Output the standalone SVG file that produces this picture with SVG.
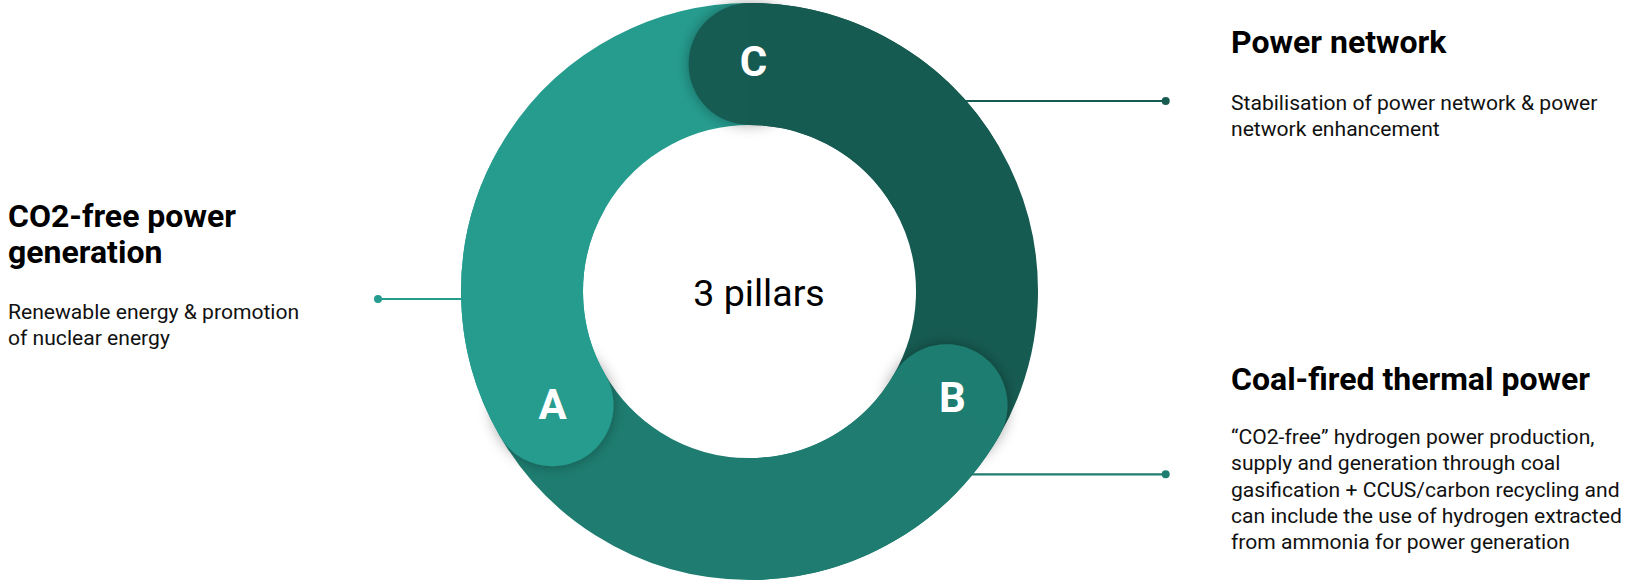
<svg xmlns="http://www.w3.org/2000/svg" width="1629" height="584" viewBox="0 0 1629 584">
<style>
.title{font-family:Roboto,"Liberation Sans",sans-serif;font-weight:700;font-size:32px;fill:#000}
.body{font-family:Roboto,"Liberation Sans",sans-serif;font-size:21.1px;fill:#111}
.letter{font-family:Roboto,"Liberation Sans",sans-serif;font-weight:700;font-size:42px;fill:#fff;text-anchor:middle}
.center{font-family:Roboto,"Liberation Sans",sans-serif;font-size:37.6px;fill:#000;text-anchor:middle}
.seg{fill:none;stroke-width:122;stroke-linecap:butt}
.a{stroke:#269C8F}
.b{stroke:#1E7D70}
.c{stroke:#165B52}
.conn{stroke-width:2.2;fill:none}
</style>
<defs>
<filter id="sh" x="-60%" y="-60%" width="220%" height="220%">
<feDropShadow dx="0" dy="0" stdDeviation="7" flood-color="#000" flood-opacity="0.35"/>
</filter>
</defs>
<g id="connectors">
<line class="conn" x1="378" y1="299" x2="560" y2="299" stroke="#269C8F"/>
<circle cx="378" cy="299" r="4" fill="#269C8F"/>
<line class="conn" x1="940" y1="101" x2="1165.7" y2="101" stroke="#165B52"/>
<circle cx="1165.7" cy="101" r="4" fill="#165B52"/>
<line class="conn" x1="940" y1="474.3" x2="1165.7" y2="474.3" stroke="#1E7D70"/>
<circle cx="1165.7" cy="474.3" r="4" fill="#1E7D70"/>
</g>
<g id="ring">
<path class="seg a" d="M552.48 405.25 A227.5 227.5 0 0 1 749.5 64"/>
<path class="seg c" d="M749.5 64 A227.5 227.5 0 0 1 946.52 405.25"/>
<path class="seg b" d="M946.52 405.25 A227.5 227.5 0 0 1 552.48 405.25"/>
</g>
<g id="node-a">
<circle cx="552.48" cy="405.25" r="61" fill="#269C8F" filter="url(#sh)"/>
<path class="seg a" d="M552.48 405.25 A227.5 227.5 0 0 1 552.48 177.75"/>
<text class="letter" x="552.5" y="419">A</text>
</g>
<g id="node-b">
<circle cx="946.52" cy="405.25" r="61" fill="#1E7D70" filter="url(#sh)"/>
<path class="seg b" d="M946.52 405.25 A227.5 227.5 0 0 1 749.5 519"/>
<text class="letter" x="952.5" y="412">B</text>
</g>
<g id="node-c">
<circle cx="749.5" cy="64" r="61" fill="#165B52" filter="url(#sh)"/>
<path class="seg c" d="M749.5 64 A227.5 227.5 0 0 1 946.52 177.75"/>
<text class="letter" x="753.5" y="76">C</text>
</g>
<g id="center-label">
<text class="center" x="759" y="306">3 pillars</text>
</g>
<g id="label-a">
<text class="title" x="8" y="227">CO2-free power</text>
<text class="title" x="8" y="263">generation</text>
<text class="body" x="8" y="319">Renewable energy &amp; promotion</text>
<text class="body" x="8" y="345">of nuclear energy</text>
</g>
<g id="label-c">
<text class="title" x="1231" y="53">Power network</text>
<text class="body" x="1231" y="110">Stabilisation of power network &amp; power</text>
<text class="body" x="1231" y="136">network enhancement</text>
</g>
<g id="label-b">
<text class="title" x="1231" y="390">Coal-fired thermal power</text>
<text class="body" x="1231" y="444">“CO2-free” hydrogen power production,</text>
<text class="body" x="1231" y="470">supply and generation through coal</text>
<text class="body" x="1231" y="496.5">gasification + CCUS/carbon recycling and</text>
<text class="body" x="1231" y="523">can include the use of hydrogen extracted</text>
<text class="body" x="1231" y="549">from ammonia for power generation</text>
</g>
</svg>
